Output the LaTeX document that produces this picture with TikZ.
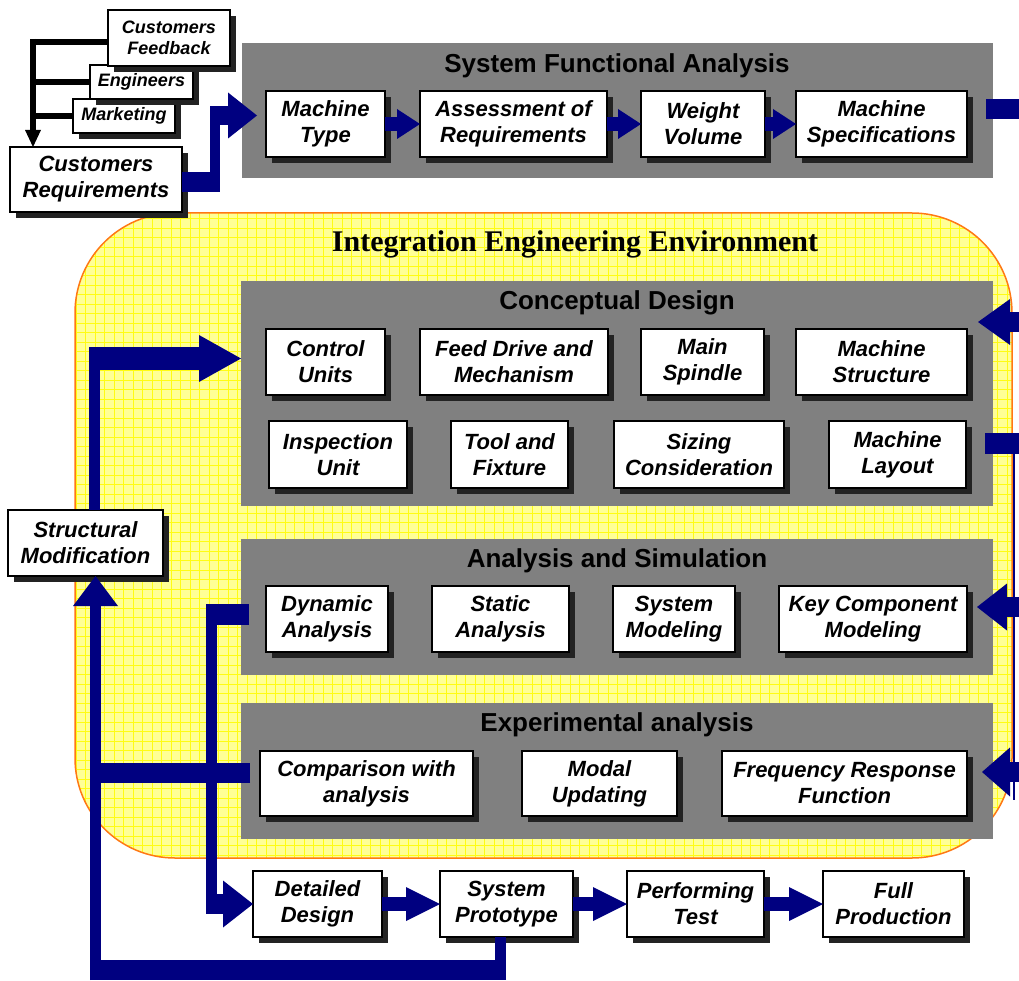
\documentclass[tikz,border=0pt]{standalone}
\usepackage{fontspec}
\newfontfamily\arialfam{Liberation Sans}
\newfontfamily\timesfam{Liberation Serif}
\usetikzlibrary{arrows.meta,shadows}

\definecolor{navyarrow}{RGB}{0,0,128}
\definecolor{panelgray}{RGB}{128,128,128}
\definecolor{envfill}{RGB}{255,255,150}
\definecolor{envgrid}{RGB}{255,252,20}
\definecolor{envedge}{RGB}{255,120,20}
\definecolor{shadowc}{RGB}{35,35,35}

\tikzset{
  wbox/.style={draw=black, line width=1.3pt, fill=white, inner sep=0pt, outer sep=0pt,
    align=center, font=\arialfam\bfseries\itshape\fontsize{22}{26}\selectfont,
    drop shadow={shadow xshift=6pt, shadow yshift=-6pt, fill=shadowc, opacity=1}},
  sbox/.style={wbox, font=\arialfam\bfseries\itshape\fontsize{18}{21}\selectfont},
  panel/.style={fill=panelgray, inner sep=0pt, outer sep=0pt},
  ptitle/.style={font=\arialfam\bfseries\fontsize{26}{30}\selectfont, inner sep=0pt},
  envtitle/.style={font=\timesfam\bfseries\fontsize{30}{34}\selectfont, inner sep=0pt},
  band/.style={draw=navyarrow, line width=#1, line cap=butt, line join=miter},
  fathead/.style 2 args={-{Triangle[width=#1pt,length=#2pt,line width=0pt]}},
  flowsmall/.style={band=14, fathead={30}{23}},
  flowbig/.style={band=14, fathead={34}{34}},
  feedline/.style={draw=black, line width=6pt, line cap=butt},
}

\begin{document}
\begin{tikzpicture}[x=1pt,y=-1pt]
\useasboundingbox (0,0) rectangle (1019,981);
\clip (0,0) rectangle (1019,981);

% integration environment: gridded yellow field with orange rim
\fill[envfill, rounded corners=100pt] (75,213) rectangle (1012,858);
\begin{scope}
  \clip[rounded corners=100pt] (75,213) rectangle (1012,858);
  \draw[envgrid, line width=0.5pt, step=9.5pt] (70,860) grid (1015,210);
\end{scope}
\draw[envedge, line width=1.5pt, rounded corners=100pt] (75,213) rectangle (1012,858);

% grey stage panels
\node[panel, minimum width=751, minimum height=135] (sfa)  at (617.5,110.5) {};
\node[panel, minimum width=752, minimum height=225] (cd)   at (617,393.5) {};
\node[panel, minimum width=752, minimum height=136] (asim) at (617,607) {};
\node[panel, minimum width=752, minimum height=136] (expa) at (617,771) {};

% requirement sources
\node[sbox, minimum width=102, minimum height=34] (mkt) at (124,116) {Marketing};
\node[sbox, minimum width=103, minimum height=34] (eng) at (141.5,82) {Engineers};
\node[sbox, minimum width=122, minimum height=56] (cf)  at (169,38) {Customers\\Feedback};
\node[wbox, minimum width=172, minimum height=65] (cr)  at (96,179.5) {Customers\\Requirements};

% system functional analysis
\node[wbox, minimum width=119, minimum height=66] (mt) at (325.5,124) {Machine\\Type};
\node[wbox, minimum width=187, minimum height=66] (ar) at (513.5,124) {Assessment of\\Requirements};
\node[wbox, minimum width=124, minimum height=66] (wv) at (703,124) {Weight\\Volume};
\node[wbox, minimum width=171, minimum height=66] (ms) at (881.5,124) {Machine\\Specifications};

% conceptual design
\node[wbox, minimum width=119, minimum height=66] (cu)   at (325.5,362) {Control\\Units};
\node[wbox, minimum width=188, minimum height=66] (fd)   at (514,362) {Feed Drive and\\Mechanism};
\node[wbox, minimum width=123, minimum height=66] (msp)  at (702.5,362) {Main\\Spindle};
\node[wbox, minimum width=171, minimum height=66] (mstr) at (881.5,362) {Machine\\Structure};
\node[wbox, minimum width=138, minimum height=67] (iu)   at (338,454.5) {Inspection\\Unit};
\node[wbox, minimum width=117, minimum height=67] (tf)   at (509.5,454.5) {Tool and\\Fixture};
\node[wbox, minimum width=170, minimum height=67] (sc)   at (699,454.5) {Sizing\\Consideration};
\node[wbox, minimum width=137, minimum height=67] (ml)   at (897.5,454.5) {Machine\\Layout};

% analysis and simulation
\node[wbox, minimum width=122, minimum height=66] (da)  at (327,619) {Dynamic\\Analysis};
\node[wbox, minimum width=137, minimum height=66] (sa)  at (500.5,619) {Static\\Analysis};
\node[wbox, minimum width=122, minimum height=66] (smo) at (674,619) {System\\Modeling};
\node[wbox, minimum width=188, minimum height=66] (kc)  at (873,619) {Key Component\\Modeling};

% experimental analysis
\node[wbox, minimum width=213, minimum height=65] (cwa) at (366.5,783.5) {Comparison with\\analysis};
\node[wbox, minimum width=155, minimum height=65] (mu)  at (599.5,783.5) {Modal\\Updating};
\node[wbox, minimum width=245, minimum height=65] (frf) at (844.5,783.5) {Frequency Response\\Function};

% downstream stages
\node[wbox, minimum width=129, minimum height=66] (dd) at (317.5,904) {Detailed\\Design};
\node[wbox, minimum width=133, minimum height=66] (sp) at (506.5,904) {System\\Prototype};
\node[wbox, minimum width=137, minimum height=66] (pt) at (695.5,904) {Performing\\Test};
\node[wbox, minimum width=141, minimum height=66] (fp) at (893.5,904) {Full\\Production};

% structural modification
\node[wbox, minimum width=155, minimum height=66] (smod) at (85.5,543) {Structural\\Modification};

% feed lines from the requirement sources
\coordinate (fbtop) at (33,39);
\coordinate (fb1) at (30,42);
\coordinate (fb2) at (30,82);
\coordinate (fb3) at (30,116);
\draw[feedline, -{Triangle[width=16pt,length=17pt,line width=0pt]}] (fbtop) -- (cr.north -| fbtop);
\draw[feedline] (fb1) -- (cf.west |- fb1);
\draw[feedline] (fb2) -- (eng.west);
\draw[feedline] (fb3) -- (mkt.west);

% requirements into the functional analysis
\coordinate (a1) at (220,182);
\coordinate (a2) at (215,192);
\coordinate (a3) at (215,106);
\coordinate (a4) at (210,115.5);
\coordinate (a5) at (257,115.5);
\draw[band=20] (cr.east |- a1) -- (a1);
\draw[band=10] (a2) -- (a3);
\draw[band=19, fathead={46}{29}] (a4) -- (a5);

% functional analysis chain
\draw[flowsmall] (mt.east) -- (ar.west);
\draw[flowsmall] (ar.east) -- (wv.west);
\draw[flowsmall] (wv.east) -- (ms.west);

% links on the right edge
\coordinate (r0a) at (986,109);   \coordinate (r0b) at (1030,109);
\coordinate (r1a) at (1030,322);  \coordinate (r1b) at (978,322);
\coordinate (r2a) at (985,443.5); \coordinate (r2b) at (1030,443.5);
\coordinate (r3a) at (1030,607);  \coordinate (r3b) at (977,607);
\coordinate (r4a) at (1030,772);  \coordinate (r4b) at (982,772);
\coordinate (r5a) at (1014,454);  \coordinate (r5b) at (1014,800);
\draw[band=20] (r0a) -- (r0b);
\draw[band=20, fathead={46}{32}] (r1a) -- (r1b);
\draw[band=21] (r2a) -- (r2b);
\draw[band=20, fathead={47}{30}] (r3a) -- (r3b);
\draw[band=20, fathead={49}{28}] (r4a) -- (r4b);
\draw[draw=navyarrow, line width=1.5pt] (r5a) -- (r5b);

% structural modification back into conceptual design
\coordinate (L1) at (94.5,347);
\coordinate (L2) at (89,358.5);
\draw[band=11] (smod.north -| L1) -- (L1);
\draw[band=23, fathead={47}{42}] (L2) -- (cd.west |- L2);

% prototype loop back to structural modification
\coordinate (B1) at (500.5,970);
\coordinate (B2) at (506,970);
\coordinate (B3) at (90,970);
\coordinate (B4) at (95.5,980);
\draw[band=11] (sp.south -| B1) -- (B1);
\draw[band=20] (B2) -- (B3);
\draw[band=11, fathead={45}{30}] (B4) -- (smod.south -| B4);

% comparison feeds the same return line
\coordinate (C1) at (250,773);
\coordinate (C2) at (90,773);
\draw[band=20] (C1) -- (C2);

% dynamic analysis down to detailed design
\coordinate (D1) at (249,614.5);
\coordinate (D2) at (206,614.5);
\coordinate (D3) at (211.5,604);
\coordinate (D4) at (211.5,914);
\coordinate (D5) at (206,904);
\draw[band=21] (D1) -- (D2);
\draw[band=11] (D3) -- (D4);
\draw[band=20, fathead={47}{30}] (D5) -- (dd.west);

% downstream chain
\draw[flowbig] (dd.east) -- (sp.west);
\draw[flowbig] (sp.east) -- (pt.west);
\draw[flowbig] (pt.east) -- (fp.west);

% titles
\node[envtitle] (ieet) at (575,244) {Integration Engineering Environment};
\node[ptitle] (sfat) at (617,66) {System Functional Analysis};
\node[ptitle] (cdt)  at (617,303) {Conceptual Design};
\node[ptitle] (ast)  at (617,561) {Analysis and Simulation};
\node[ptitle] (eat)  at (617,725) {Experimental analysis};
\end{tikzpicture}
\end{document}
